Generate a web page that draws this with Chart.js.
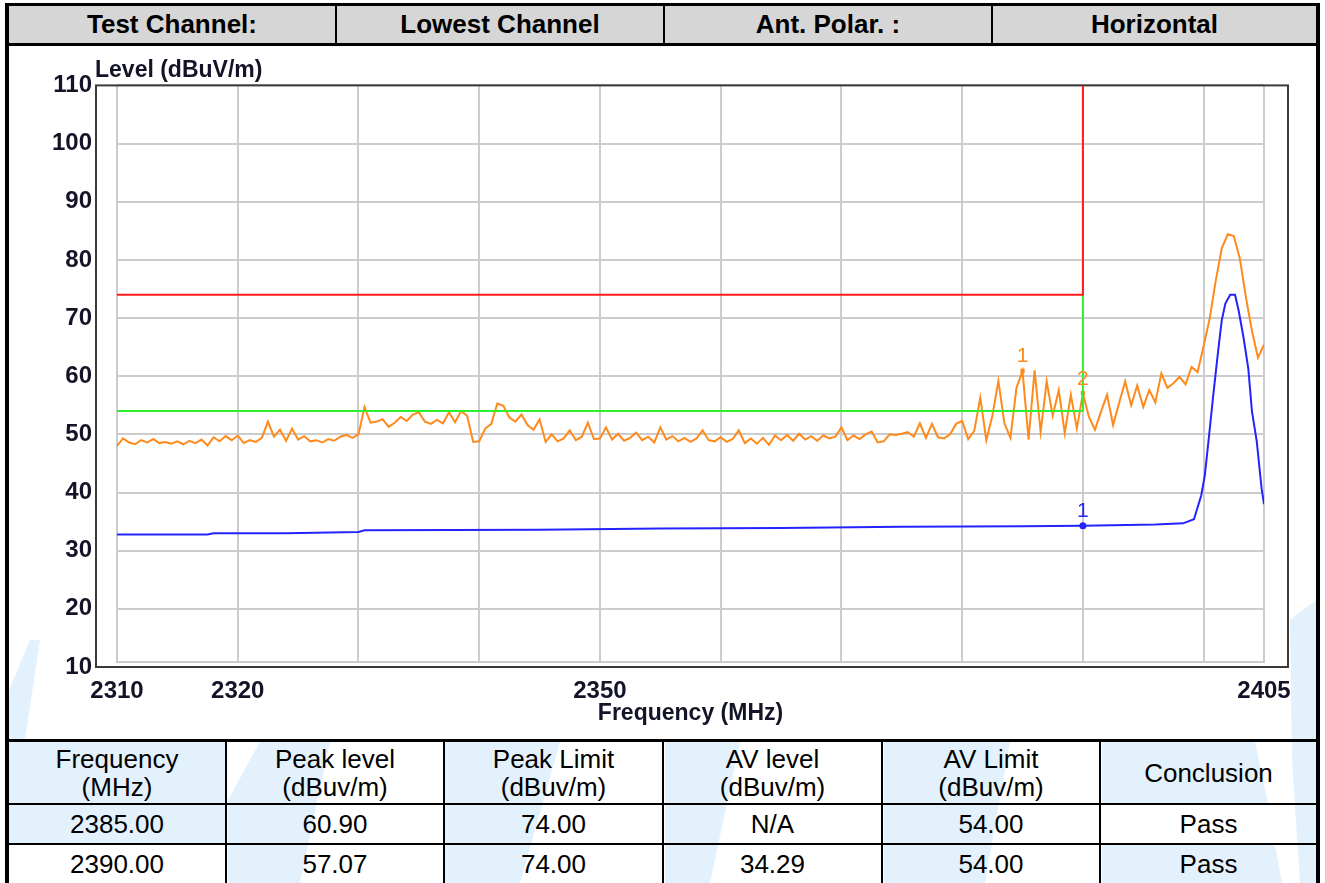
<!DOCTYPE html>
<html>
<head>
<meta charset="utf-8">
<script src="https://cdn.jsdelivr.net/npm/chart.js@4.4.1/dist/chart.umd.min.js"></script>
<style>
  body { margin: 0; width: 1325px; height: 883px; overflow: hidden; position: relative; background: #fff;
         font-family: "Liberation Sans", Arial, sans-serif; }
  .wm { position: absolute; left: 0; top: 0; width: 1325px; height: 883px; background: #e3f1fd; }
  #frame { position: absolute; left: 5px; top: 3px; width: 1307px; height: 900px;
           border: 4px solid #000; border-top-width: 3px; border-bottom: none; }
  #head { display: flex; height: 37px; background: #d6d6d6; border-bottom: 3px solid #000; }
  #head div { box-sizing: border-box; font-weight: bold; font-size: 26px; line-height: 37px; text-align: center; }
  #head div:not(:last-child) { border-right: 2px solid #000; }
  #chart { position: absolute; left: 9px; top: 46px; }
  #results { position: absolute; left: 9px; top: 739px; width: 1307px; display: grid;
             grid-template-columns: 218px 218px 219px 219px 218px 215px;
             grid-template-rows: 63px 40px 40px; border-top: 3px solid #000; }
  #results div { box-sizing: border-box; border-bottom: 2px solid #000; display: flex; align-items: center;
                 justify-content: center; text-align: center; font-size: 26px; line-height: 28px; color: #000; }
  #results div:not(:nth-child(6n)) { border-right: 2px solid #000; }
</style>
</head>
<body>
<!-- light blue watermark behind the sheet -->
<div class="wm" style="clip-path: polygon(9px 742px, 225px 742px, 225px 845px, 9px 845px)"></div>
<div class="wm" style="clip-path: polygon(9px 740px, 9px 690px, 30px 640px, 40px 640px, 25px 740px)"></div>
<div class="wm" style="clip-path: polygon(260px 742px, 330px 742px, 300px 883px, 228px 883px, 228px 800px)"></div>
<div class="wm" style="clip-path: polygon(445px 742px, 560px 742px, 520px 883px, 445px 883px)"></div>
<div class="wm" style="clip-path: polygon(665px 742px, 740px 742px, 710px 883px, 665px 883px)"></div>
<div class="wm" style="clip-path: polygon(884px 742px, 1010px 742px, 985px 883px, 884px 883px)"></div>
<div class="wm" style="clip-path: polygon(1102px 742px, 1255px 742px, 1268px 803px, 1102px 803px)"></div>
<div class="wm" style="clip-path: polygon(1102px 845px, 1275px 845px, 1282px 883px, 1102px 883px)"></div>
<div class="wm" style="clip-path: polygon(1290px 620px, 1316px 600px, 1316px 883px, 1300px 883px, 1292px 760px)"></div>

<div id="frame">
  <div id="head"></div>
</div>
<canvas id="chart" width="1307" height="693"></canvas>
<div id="results"></div>

<script>
// header row and result table text
const headerCells = ['Test Channel:', 'Lowest Channel', 'Ant. Polar. :', 'Horizontal'];
const headerWidths = [328, 328, 328, 323];
const tableHeads = [['Frequency', '(MHz)'], ['Peak level', '(dBuv/m)'], ['Peak Limit', '(dBuv/m)'],
                    ['AV level', '(dBuv/m)'], ['AV Limit', '(dBuv/m)'], ['Conclusion']];
const resultRows = [
    ['2385.00', '60.90', '74.00', 'N/A', '54.00', 'Pass'],
    ['2390.00', '57.07', '74.00', '34.29', '54.00', 'Pass']
];

// peak trace, one reading every 0.5 MHz from 2310 to 2405
const peakStart = 2310;
const peakStep = 0.5;
const peakLevel = [
    48.0, 49.3, 48.6, 48.3, 49.0, 48.6, 49.2, 48.5, 48.7, 48.4,
    48.8, 48.3, 48.9, 48.5, 49.1, 48.1, 49.5, 48.8, 49.7, 49.0,
    49.8, 48.5, 49.0, 48.7, 49.4, 52.2, 49.6, 50.8, 48.9, 51.0,
    49.1, 49.7, 48.8, 49.0, 48.6, 49.2, 48.9, 49.6, 49.9, 49.4,
    50.0, 54.7, 52.0, 52.2, 52.6, 51.3, 52.0, 53.0, 52.3, 53.4,
    53.8, 52.2, 51.8, 52.5, 51.9, 53.8, 52.1, 54.0, 53.2, 48.7,
    48.8, 51.0, 51.8, 55.3, 54.9, 52.9, 52.2, 53.4, 51.6, 50.8,
    52.6, 48.7, 50.0, 48.8, 49.3, 50.7, 49.0, 49.6, 52.0, 49.2,
    49.3, 51.2, 49.1, 50.1, 48.9, 49.4, 50.3, 49.0, 49.6, 48.6,
    51.2, 49.1, 49.7, 48.8, 49.4, 48.7, 49.3, 50.7, 49.0, 48.8,
    49.5, 48.7, 49.2, 50.7, 48.5, 49.3, 48.4, 49.4, 48.2, 49.8,
    49.0, 49.9, 48.9, 50.1, 49.1, 49.7, 48.9, 49.8, 49.3, 49.6,
    51.2, 49.0, 49.8, 49.2, 50.0, 50.5, 48.6, 48.8, 50.0, 49.9,
    50.1, 50.4, 49.6, 51.9, 49.4, 51.8, 49.5, 49.3, 50.0, 51.8,
    52.3, 49.2, 50.6, 56.3, 49.0, 53.2, 59.2, 51.9, 49.4, 58.0,
    60.9, 49.1, 61.0, 50.4, 59.1, 53.2, 57.6, 50.2, 56.8, 51.0,
    57.07, 53.0, 50.8, 53.9, 56.8, 51.6, 55.4, 59.1, 55.0, 58.4,
    54.7, 57.6, 55.5, 60.5, 58.0, 58.8, 59.9, 58.6, 61.6, 60.7,
    65.2, 69.9, 76.4, 82.0, 84.4, 84.1, 80.2, 73.6, 67.8, 63.2, 65.4
];

// average trace
const avFreq = [2310, 2317.5, 2318, 2324, 2330, 2330.5, 2345, 2355, 2365, 2375, 2385, 2390, 2396,
                2398.3, 2399.2, 2399.8, 2400.1, 2400.4, 2400.8, 2401.2, 2401.5, 2401.8, 2402.2,
                2402.6, 2402.9, 2403.3, 2403.7, 2404.0, 2404.4, 2404.8, 2405];
const avLevel = [32.8, 32.8, 33.0, 33.0, 33.2, 33.5, 33.6, 33.8, 33.9, 34.1, 34.2, 34.29, 34.5,
                 34.7, 35.4, 39.5, 43.0, 48.8, 56.8, 64.3, 69.6, 72.5, 74.0,
                 74.0, 71.3, 66.7, 61.3, 54.0, 48.8, 40.7, 38.0];

// limit lines
const limitFreq = [2310, 2390, 2390];
const peakLimit = [74, 74, 110];
const avLimit = [54, 54, 74];

// markers
const peakMarkFreq = [2385, 2390];
const peakMarkLevel = [60.90, 57.07];
const peakMarkText = ['1', '2'];
const avMarkFreq = [2390];
const avMarkLevel = [34.29];
const avMarkText = ['1'];

// axes
const xGrid = [2310, 2320, 2330, 2340, 2350, 2360, 2370, 2380, 2390, 2400, 2405];
const xLabelled = [2310, 2320, 2350, 2405];
const yGrid = [10, 20, 30, 40, 50, 60, 70, 80, 90, 100, 110];

const ORANGE = '#ff8a1c';
const BLUE = '#2323ff';
const FONT = '"Liberation Sans", Arial, sans-serif';

// build the html parts
const head = document.getElementById('head');
headerCells.forEach((t, i) => {
    const d = document.createElement('div');
    d.style.width = headerWidths[i] + 'px';
    d.textContent = t;
    head.appendChild(d);
});
const results = document.getElementById('results');
tableHeads.forEach(lines => {
    const d = document.createElement('div');
    d.innerHTML = lines.join('<br>');
    results.appendChild(d);
});
resultRows.forEach(row => row.forEach(t => {
    const d = document.createElement('div');
    d.textContent = t;
    results.appendChild(d);
}));

const pairs = (xs, ys) => xs.map((x, i) => ({x: x, y: ys[i]}));

// white plot face + dark frame around it, offset from the grid like the analyser plot
const plotFrame = {
    id: 'plotFrame',
    beforeDraw(chart) {
        const a = chart.chartArea, ctx = chart.ctx;
        ctx.save();
        ctx.fillStyle = '#fff';
        ctx.fillRect(a.left - 21, a.top, a.width + 45, a.height);
        ctx.restore();
    },
    beforeDatasetsDraw(chart) {
        const a = chart.chartArea, ctx = chart.ctx;
        ctx.save();
        // grid floor sits a few px above the frame
        ctx.strokeStyle = '#cccccc';
        ctx.lineWidth = 2;
        ctx.beginPath();
        ctx.moveTo(a.left, a.bottom - 5);
        ctx.lineTo(a.right, a.bottom - 5);
        ctx.stroke();
        ctx.fillStyle = '#fff';
        ctx.fillRect(a.left - 1, a.bottom - 4, a.width + 2, 4);
        ctx.strokeStyle = '#3a3a3a';
        ctx.strokeRect(a.left - 21, a.top, a.width + 45, a.height);
        // y axis title sits above the frame, horizontal
        ctx.font = 'bold 23px ' + FONT;
        ctx.fillStyle = '#141428';
        ctx.textAlign = 'left';
        ctx.textBaseline = 'alphabetic';
        ctx.fillText('Level (dBuV/m)', a.left - 22, a.top - 8);
        ctx.restore();
    }
};

const markerLabels = {
    id: 'markerLabels',
    afterDatasetsDraw(chart) {
        const ctx = chart.ctx;
        chart.data.datasets.forEach((ds, i) => {
            if (!ds.marks) return;
            const meta = chart.getDatasetMeta(i);
            ctx.save();
            ctx.font = '21px ' + FONT;
            ctx.fillStyle = ds.borderColor;
            ctx.textAlign = 'center';
            ctx.textBaseline = 'bottom';
            meta.data.forEach((pt, j) => ctx.fillText(ds.marks[j], pt.x, pt.y - 4));
            ctx.restore();
        });
    }
};

new Chart(document.getElementById('chart'), {
    type: 'scatter',
    data: {
        datasets: [
            {
                label: 'Peak Limit',
                data: pairs(limitFreq, peakLimit),
                showLine: true, borderColor: '#ff1a1a', borderWidth: 2, pointRadius: 0
            },
            {
                label: 'AV Limit',
                data: pairs(limitFreq, avLimit),
                showLine: true, borderColor: '#2ff02f', borderWidth: 2, pointRadius: 0
            },
            {
                label: 'Peak',
                data: peakLevel.map((v, i) => ({x: peakStart + i * peakStep, y: v})),
                showLine: true, borderColor: ORANGE, borderWidth: 2, pointRadius: 0
            },
            {
                label: 'Average',
                data: pairs(avFreq, avLevel),
                showLine: true, borderColor: BLUE, borderWidth: 2, pointRadius: 0
            },
            {
                label: 'Peak markers',
                data: pairs(peakMarkFreq, peakMarkLevel),
                marks: peakMarkText,
                borderColor: ORANGE, backgroundColor: ORANGE,
                pointStyle: 'rect', pointRadius: 3, borderWidth: 0
            },
            {
                label: 'AV markers',
                data: pairs(avMarkFreq, avMarkLevel),
                marks: avMarkText,
                borderColor: BLUE, backgroundColor: BLUE,
                pointStyle: 'circle', pointRadius: 3.5, borderWidth: 0
            }
        ]
    },
    options: {
        responsive: false,
        animation: false,
        devicePixelRatio: 1,
        layout: { padding: { top: 39, right: 52, left: 0, bottom: 0 } },
        plugins: { legend: { display: false }, tooltip: { enabled: false } },
        scales: {
            x: {
                type: 'linear',
                min: 2310,
                max: 2405,
                afterBuildTicks: s => { s.ticks = xGrid.map(v => ({value: v})); },
                afterFit: s => { s.height = 72; },
                grid: { color: '#cccccc', lineWidth: 2, drawTicks: false },
                border: { display: false },
                ticks: {
                    autoSkip: false,
                    maxRotation: 0,
                    padding: 10,
                    color: '#141428',
                    font: { family: FONT, size: 24, weight: 'bold' },
                    callback: v => xLabelled.includes(v) ? String(v) : ''
                },
                title: {
                    display: true,
                    text: 'Frequency (MHz)',
                    color: '#141428',
                    font: { family: FONT, size: 23, weight: 'bold' },
                    padding: { top: 0, bottom: 12 }
                }
            },
            y: {
                min: 10,
                max: 110,
                afterBuildTicks: s => { s.ticks = yGrid.map(v => ({value: v})); },
                afterFit: s => { s.width = 108; },
                grid: { color: '#cccccc', lineWidth: 2, drawTicks: false },
                border: { display: false },
                ticks: {
                    padding: 25,
                    color: '#141428',
                    font: { family: FONT, size: 24, weight: 'bold' }
                }
            }
        }
    },
    plugins: [plotFrame, markerLabels]
});
</script>
</body>
</html>
